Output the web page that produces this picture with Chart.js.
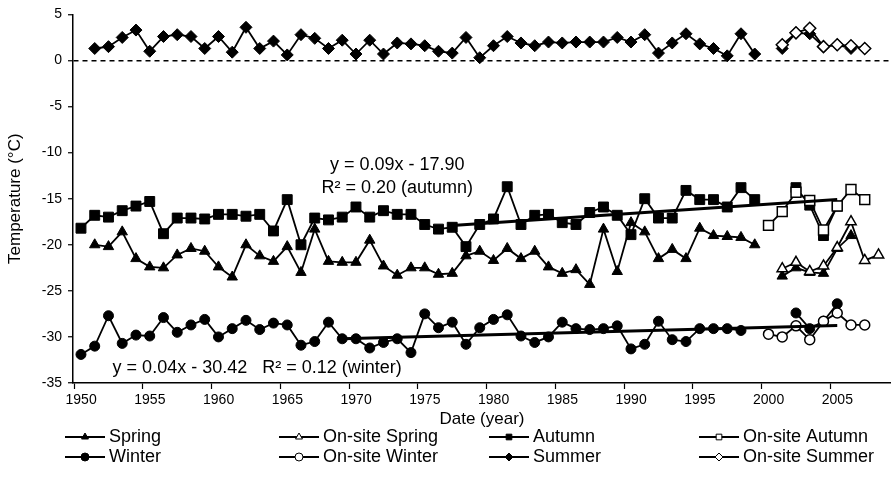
<!DOCTYPE html>
<html>
<head>
<meta charset="utf-8">
<script src="https://cdn.jsdelivr.net/npm/chart.js@4.4.0/dist/chart.umd.min.js"></script>
<style>
  html, body { margin: 0; padding: 0; background: #fff; }
</style>
</head>
<body>
<canvas id="tempChart" width="891" height="488"></canvas>
<script>
// values (°C); null = no record that year
const springStart = 1951;
const springMain = [
  -20.0, -20.2, -18.6, -21.5, -22.4, -22.5, -21.1, -20.4, -20.7, -22.4,
  -23.5, -20.0, -21.2, -21.8, -20.2, -23.0, -18.3, -21.8, -21.9, -21.9,
  -19.5, -22.3, -23.3, -22.5, -22.5, -23.2, -23.1, -21.2, -20.7, -21.7,
  -20.4, -21.5, -20.7, -22.4, -23.1, -22.7, -24.3, -18.3, -22.9, -17.6,
  -18.6, -21.5, -20.5, -21.5, -18.2, -19.0, -19.1, -19.2, -20.0, null,
  -23.4, -22.5, -23.0, -23.1, -20.4, -19.0
];

const summerStart = 1951;
const summerMain = [
  1.3, 1.5, 2.5, 3.3, 1.0, 2.6, 2.8, 2.6, 1.3, 2.6,
  0.9, 3.6, 1.3, 2.1, 0.6, 2.8, 2.4, 1.3, 2.2, 0.7,
  2.2, 0.7, 1.9, 1.8, 1.6, 1.0, 0.8, 2.5, 0.3, 1.6,
  2.6, 1.9, 1.6, 2.0, 1.9, 2.0, 2.0, 2.0, 2.5, 2.0,
  2.8, 0.8, 1.9, 2.9, 1.8, 1.3, 0.5, 2.9, 0.7, null,
  1.3, 3.0, 2.9, 1.5, 1.7, 1.3
];

const winterStart = 1950;
const winterMain = [
  -31.9, -31.0, -27.7, -30.7, -29.8, -29.9, -27.9, -29.5, -28.7, -28.1,
  -30.0, -29.1, -28.2, -29.2, -28.5, -28.7, -30.9, -30.5, -28.4, -30.2,
  -30.2, -31.2, -30.6, -30.2, -31.7, -27.5, -29.0, -28.4, -30.8, -29.0,
  -28.1, -27.6, -29.9, -30.6, -30.0, -28.4, -29.1, -29.2, -29.1, -28.8,
  -31.3, -30.8, -28.3, -30.3, -30.5, -29.1, -29.1, -29.1, -29.3, null,
  null, null, -27.4, -29.1, -28.3, -26.4
];

const autumnStart = 1950;
const autumnMain = [
  -18.2, -16.8, -17.0, -16.3, -15.8, -15.3, -18.8, -17.1, -17.1, -17.2,
  -16.7, -16.7, -16.9, -16.7, -18.5, -15.1, -20.0, -17.1, -17.3, -17.0,
  -15.9, -17.0, -16.3, -16.7, -16.7, -17.8, -18.3, -18.1, -20.2, -17.8,
  -17.2, -13.7, -17.8, -16.8, -16.7, -17.6, -17.8, -16.5, -15.9, -16.8,
  -18.9, -15.0, -17.1, -17.1, -14.1, -15.1, -15.1, -15.9, -13.8, -15.1,
  null, null, -13.8, -15.7, -19.0, -15.8
];

// on-site measurements
const onSiteSpringStart = 2001;
const onSiteSpring = [-22.6, -21.9, -22.9, -22.3, -20.3, -17.5, -21.7, -21.1];
const onSiteAutumnStart = 2000;
const onSiteAutumn = [-17.9, -16.4, -14.3, -15.2, -18.4, -15.8, -14.0, -15.1];
const onSiteWinterStart = 2000;
const onSiteWinter = [-29.7, -30.0, -28.8, -30.3, -28.3, -27.4, -28.7, -28.7];
const onSiteSummerStart = 2001;
const onSiteSummer = [1.7, 3.0, 3.5, 1.5, 1.7, 1.6, 1.3];

// linear trend lines (end points)
const autumnTrendYears = [1977, 2005];
const autumnTrendVals = [-17.9, -15.1];
const winterTrendYears = [1969, 2005];
const winterTrendVals = [-30.2, -28.75];

// axis ticks
const xTickPos = [1949.5, 1954.5, 1959.5, 1964.5, 1969.5, 1974.5, 1979.5, 1984.5, 1989.5, 1994.5, 1999.5, 2004.5];
const xTickLabels = ['1950', '1955', '1960', '1965', '1970', '1975', '1980', '1985', '1990', '1995', '2000', '2005'];

const FONT = 'Liberation Sans, Arial, sans-serif';

function toPoints(start, vals) {
    return vals.map((v, i) => ({x: start + i, y: v}));
}

function series(label, start, vals, style, radius, filled) {
    return {
        label: label,
        data: toPoints(start, vals),
        borderColor: '#000',
        borderWidth: 1.8,
        pointStyle: style,
        pointRadius: radius,
        pointBackgroundColor: filled ? '#000' : '#fff',
        pointBorderColor: '#000',
        pointBorderWidth: filled ? 1 : 1.5,
        order: filled ? 2 : 1,
        tension: 0,
        fill: false
    };
}

function trend(years, vals) {
    return {
        label: 'trend',
        data: years.map((y, i) => ({x: y, y: vals[i]})),
        borderColor: '#000',
        borderWidth: 3,
        pointRadius: 0,
        order: 0,
        fill: false
    };
}

const datasets = [
    series('Spring', springStart, springMain, 'triangle', 6, true),
    series('On-site Spring', onSiteSpringStart, onSiteSpring, 'triangle', 6, false),
    series('Autumn', autumnStart, autumnMain, 'rect', 7, true),
    series('On-site Autumn', onSiteAutumnStart, onSiteAutumn, 'rect', 7, false),
    series('Winter', winterStart, winterMain, 'circle', 5, true),
    series('On-site Winter', onSiteWinterStart, onSiteWinter, 'circle', 5, false),
    series('Summer', summerStart, summerMain, 'rectRot', 6, true),
    series('On-site Summer', onSiteSummerStart, onSiteSummer, 'rectRot', 6, false),
    trend(autumnTrendYears, autumnTrendVals),
    trend(winterTrendYears, winterTrendVals)
];

// legend in 4 columns x 2 rows, plus the trend equations
const extrasPlugin = {
    id: 'extras',
    afterDraw(chart) {
        const ctx = chart.ctx;
        const xs = chart.scales.x, ys = chart.scales.y;
        ctx.save();
        ctx.fillStyle = '#000';
        ctx.textBaseline = 'middle';
        ctx.font = '18px ' + FONT;

        ctx.textAlign = 'center';
        ctx.fillText('y = 0.09x - 17.90', xs.getPixelForValue(1973.0), ys.getPixelForValue(-11.3));
        ctx.fillText('R\u00B2 = 0.20 (autumn)', xs.getPixelForValue(1973.0), ys.getPixelForValue(-13.85));
        ctx.textAlign = 'left';
        ctx.fillText('y = 0.04x - 30.42   R\u00B2 = 0.12 (winter)', xs.getPixelForValue(1952.3), ys.getPixelForValue(-33.4));

        const colX = [65, 279, 489, 699];
        const rowY = [437, 457];
        const order = [0, 4, 1, 5, 2, 6, 3, 7];
        ctx.font = '18px ' + FONT;
        for (let i = 0; i < 8; i++) {
            const d = chart.data.datasets[order[i]];
            const x0 = colX[Math.floor(i / 2)];
            const y0 = rowY[i % 2];
            ctx.strokeStyle = '#000';
            ctx.lineWidth = 1.8;
            ctx.beginPath();
            ctx.moveTo(x0, y0);
            ctx.lineTo(x0 + 40, y0);
            ctx.stroke();
            ctx.fillStyle = d.pointBackgroundColor;
            ctx.strokeStyle = '#000';
            ctx.lineWidth = 1;
            Chart.helpers.drawPoint(ctx, {pointStyle: d.pointStyle, radius: 4, borderWidth: 1, rotation: 0}, x0 + 20, y0);
            ctx.fillStyle = '#000';
            ctx.textAlign = 'left';
            ctx.fillText(d.label, x0 + 44, y0);
        }
        ctx.restore();
    }
};

new Chart(document.getElementById('tempChart'), {
    type: 'line',
    data: { datasets: datasets },
    options: {
        responsive: false,
        animation: false,
        devicePixelRatio: 1,
        events: [],
        layout: { autoPadding: false, padding: { top: 11, right: 0, left: 0, bottom: 0 } },
        plugins: {
            legend: { display: false },
            tooltip: { enabled: false }
        },
        scales: {
            x: {
                type: 'linear',
                min: 1949.42,
                max: 2008.91,
                afterBuildTicks: (s) => { s.ticks = xTickPos.map(v => ({value: v})); },
                afterFit: (s) => { s.height = 105; },
                ticks: {
                    autoSkip: false,
                    maxRotation: 0,
                    labelOffset: 7,
                    padding: 3,
                    color: '#000',
                    font: { family: FONT, size: 14 },
                    callback: (v, i) => xTickLabels[i]
                },
                grid: { drawOnChartArea: false, drawTicks: true, tickLength: 6, tickColor: '#000', tickWidth: 1.2 },
                border: { display: true, color: '#000', width: 1.5 },
                title: {
                    display: true,
                    text: 'Date (year)',
                    color: '#000',
                    font: { family: FONT, size: 17 },
                    padding: { top: 0, bottom: 58 }
                }
            },
            y: {
                min: -35,
                max: 5,
                afterFit: (s) => { s.width = 73; },
                ticks: {
                    stepSize: 5,
                    padding: 6,
                    color: '#000',
                    font: { family: FONT, size: 14 }
                },
                grid: {
                    drawOnChartArea: true,
                    drawTicks: true,
                    tickLength: 5,
                    tickColor: '#000',
                    tickWidth: 1.2,
                    lineWidth: 1.5,
                    color: (c) => (c.tick && c.tick.value === 0) ? '#000' : 'rgba(0,0,0,0)'
                },
                border: { display: true, color: '#000', width: 1.5, dash: [5, 4] },
                title: {
                    display: true,
                    text: 'Temperature (\u00B0C)',
                    color: '#000',
                    font: { family: FONT, size: 17 },
                    padding: { top: 5, bottom: 0 }
                }
            }
        }
    },
    plugins: [extrasPlugin]
});
</script>
</body>
</html>
